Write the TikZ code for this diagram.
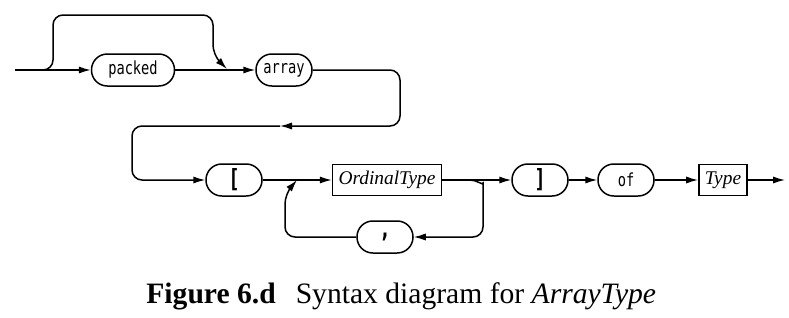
\documentclass[tikz,border=0pt]{standalone}
\usepackage{fontspec}
\setmainfont{Liberation Serif}
\newfontfamily\kwfont[FakeStretch=0.76]{DejaVu Sans Mono}
\usetikzlibrary{arrows.meta}

\tikzset{
  line/.style={line width=0.75pt},
  arr/.style={line, -{Latex[length=6pt,width=3.6pt]}},
  kw/.style={draw, line width=0.75pt, rounded corners=7.9pt, minimum height=16pt,
    minimum width=28pt, inner xsep=2pt, inner ysep=0pt, font=\fontsize{9}{10}\kwfont},
  sym/.style={kw, font=\fontsize{12.5}{12.5}\kwfont\bfseries},
  nt/.style={draw, line width=0.75pt, minimum height=15.5pt, inner xsep=3pt,
    font=\fontsize{9.7}{11}\itshape},
}

\begin{document}
\begin{tikzpicture}[x=0.5pt,y=0.5pt]
\useasboundingbox (0,0) rectangle (789,317);

% first row
\coordinate (start) at (15,247);
\coordinate (split) at (40,247);
\node[kw, minimum width=41.5pt] (packed) at (133,247) {packed};
\node[kw] (array) at (284,247) {array};
\coordinate (join) at (227,248);

\draw[arr] (start) -- (packed);
\draw[arr] (packed) -- (array);
\draw[arr, rounded corners=5pt] (split) -| (53,302) -| (213,262) -- (join);

% second row
\node[sym] (lbr) at (234,137) {[};
\node[nt] (ordinal) at (387,137) {OrdinalType};
\node[sym] (comma) at (385,80) {,};
\node[sym] (rbr) at (540,137) {]};
\node[kw] (of) at (626,137) {of};
\node[nt] (type) at (723,137) {Type};
\coordinate (end) at (785,137);
\coordinate (merge) at (297,137);
\coordinate (fork) at (470,137);

% back to the second row
\coordinate (back) at (280,191);
\draw[arr, rounded corners=5pt] (array) -| (400,191) -- (back);
\draw[arr, rounded corners=5pt] (back) -| (132,137) -- (lbr);

\draw[arr] (lbr) -- (ordinal);
\draw[arr] (ordinal) -- (rbr);
\draw[arr] (rbr) -- (of);
\draw[arr] (of) -- (type);
\draw[arr] (type) -- (end);

% loop for the list
\draw[arr, rounded corners=5pt] (fork) to[out=0,in=90] (483,124) |- (comma);
\draw[arr, rounded corners=5pt] (comma) -| (285,123) -- (merge);

% caption
\node[anchor=base west, inner sep=0, font=\fontsize{14.8}{17}\selectfont] (caption) at (146,14)
  {\textbf{Figure 6.d}\hspace{10pt}Syntax diagram for \textit{ArrayType}};
\end{tikzpicture}
\end{document}
